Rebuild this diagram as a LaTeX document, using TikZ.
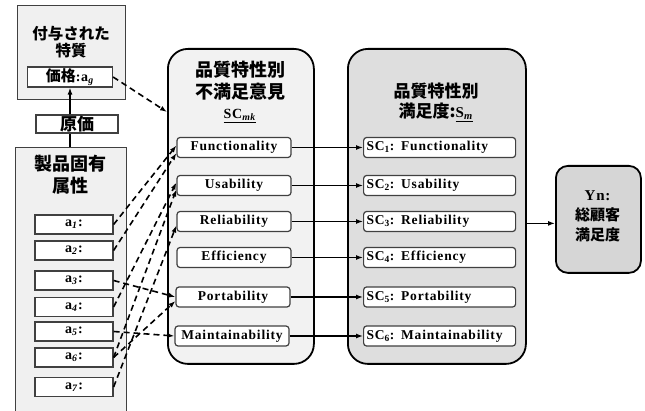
\documentclass[tikz,border=0pt]{standalone}
\usepackage{fontspec}
\setmainfont{Liberation Serif}
\newfontfamily\lat{Liberation Serif}[LetterSpace=6]
\newfontfamily\jp{Noto Sans CJK JP}
\usetikzlibrary{arrows.meta}
\definecolor{boxline}{HTML}{404040}
\definecolor{lightfill}{HTML}{F0F0F0}
\definecolor{midfill}{HTML}{F2F2F2}
\definecolor{rightfill}{HTML}{DEDEDE}
\definecolor{ynfill}{HTML}{D6D6D6}
\tikzset{
  panel/.style={draw=boxline, line width=1.3pt, fill=lightfill},
  bigpanel/.style={draw=black, line width=1.8pt, rounded corners=20pt},
  itembox/.style={draw=boxline, line width=1.2pt, fill=white, rounded corners=3pt,
    minimum height=20pt, inner sep=1pt, font=\lat\bfseries\fontsize{13.5}{14}\selectfont},
  attrbox/.style={draw=boxline, line width=1.2pt, fill=white,
    minimum width=78pt, minimum height=19pt, inner sep=1pt, font=\lat\bfseries\fontsize{14}{14}\selectfont},
  jptitle/.style={font=\jp\bfseries\fontsize{18}{22}\selectfont, align=center, inner sep=0pt},
  solidarrow/.style={line width=1.3pt, -{Latex[length=7pt,width=5pt]}},
  dasharrow/.style={line width=1.6pt, dash pattern=on 6pt off 4pt, -{Latex[length=7pt,width=5pt]}}
}
\begin{document}
\begin{tikzpicture}[x=1pt,y=-1pt]
\useasboundingbox (0,0) rectangle (645,411);
% left panels
\node[panel, minimum width=108pt, minimum height=94pt, anchor=north west, inner sep=0pt] (given) at (17,5) {};
\node[jptitle, font=\jp\bfseries\fontsize{15.5}{17}\selectfont] (giventitle) at (71,42.5) {付与された\\特質};
\node[attrbox, minimum width=85pt, minimum height=20pt] (price) at (70,77) {{\jp\bfseries\fontsize{15}{15}\selectfont 価格}:a\textsubscript{\textit{g}}};
\node[attrbox, minimum width=82pt, minimum height=18pt, font=\jp\bfseries\fontsize{17}{17}\selectfont] (genka) at (77,124) {原価};
\node[panel, minimum width=111pt, minimum height=270pt, anchor=north west, inner sep=0pt] (inherent) at (15,147) {};
\node[jptitle] (inherenttitle) at (70,175) {製品固有\\属性};
\node[attrbox] (a1) at (74,224.5) {a\textsubscript{\textit{1}}:};
\node[attrbox] (a2) at (74,250.5) {a\textsubscript{\textit{2}}:};
\node[attrbox] (a3) at (74,280.5) {a\textsubscript{\textit{3}}:};
\node[attrbox] (a4) at (74,307) {a\textsubscript{\textit{4}}:};
\node[attrbox] (a5) at (74,331.5) {a\textsubscript{\textit{5}}:};
\node[attrbox] (a6) at (74,357.5) {a\textsubscript{\textit{6}}:};
\node[attrbox] (a7) at (74,387) {a\textsubscript{\textit{7}}:};
\draw[line width=1.3pt] (inherent.north -| genka.south) ++(-7,0) coordinate (c1) -- (c1 |- genka.south);
\draw[solidarrow] (c1 |- genka.north) -- (c1 |- price.south);
% middle panel
\node[bigpanel, fill=midfill, minimum width=146pt, minimum height=315pt, anchor=north west, inner sep=0pt] (mid) at (167,48) {};
\node[jptitle] (midtitle) at (240,81) {品質特性別\\不満足意見};
\node[font=\lat\bfseries\fontsize{14}{14}\selectfont, inner sep=0pt] (midsc) at (240,116) {\underline{SC\textsubscript{\textit{mk}}}};
\node[itembox, minimum width=114pt] (f) at (234,147.5) {Functionality};
\node[itembox, minimum width=114pt] (u) at (234,185.5) {Usability};
\node[itembox, minimum width=114pt] (r) at (234,221.5) {Reliability};
\node[itembox, minimum width=114pt] (e) at (234,257.5) {Efficiency};
\node[itembox, minimum width=114pt] (p) at (233,297) {Portability};
\node[itembox, minimum width=114pt] (m) at (232,336) {Maintainability};
% right panel
\node[bigpanel, fill=rightfill, minimum width=178pt, minimum height=315pt, anchor=north west, inner sep=0pt] (right) at (347,48) {};
\node[jptitle, font=\jp\bfseries\fontsize{17}{20}\selectfont] (righttitle) at (436,102) {品質特性別\\満足度:{\lat\fontsize{15}{15}\selectfont\underline{S\textsubscript{\textit{m}}}}};
\node[itembox, minimum width=152pt, anchor=west, text width=146pt, align=left] (s1) at (363,147.5) {SC\textsubscript{1}: Functionality};
\node[itembox, minimum width=152pt, anchor=west, text width=146pt, align=left] (s2) at (363,185.5) {SC\textsubscript{2}: Usability};
\node[itembox, minimum width=152pt, anchor=west, text width=146pt, align=left] (s3) at (363,221.5) {SC\textsubscript{3}: Reliability};
\node[itembox, minimum width=152pt, anchor=west, text width=146pt, align=left] (s4) at (363,257.5) {SC\textsubscript{4}: Efficiency};
\node[itembox, minimum width=152pt, anchor=west, text width=146pt, align=left] (s5) at (363,297) {SC\textsubscript{5}: Portability};
\node[itembox, minimum width=152pt, anchor=west, text width=146pt, align=left] (s6) at (363,336) {SC\textsubscript{6}: Maintainability};
% Yn
\node[draw=black, line width=1.8pt, rounded corners=12pt, fill=ynfill, minimum width=85pt, minimum height=107pt, anchor=north west, inner sep=0pt] (yn) at (555,165) {};
\node[font=\jp\bfseries\fontsize{15}{20}\selectfont, align=center, inner sep=0pt] (yntext) at (597.5,216) {{\lat\fontsize{15}{15}\selectfont Yn:}\\総顧客\\満足度};
% solid arrows
\draw[solidarrow] (f.east) -- (s1.west);
\draw[solidarrow] (u.east) -- (s2.west);
\draw[solidarrow] (r.east) -- (s3.west);
\draw[solidarrow] (e.east) -- (s4.west);
\draw[solidarrow] (p.east) -- (s5.west);
\draw[solidarrow] (m.east) -- (s6.west);
\draw[solidarrow] (right.east |- yn.west) ++(0,4) coordinate (c2) -- (c2 -| yn.west);
% dashed arrows
\coordinate (midin) at (mid.west |- 0,112);
\draw[dasharrow] (price.east) -- (midin);
\draw[dasharrow] (a1.east) -- ([yshift=2pt]f.west);
\draw[dasharrow] (a2.east) -- ([yshift=5pt]f.south west);
\draw[dasharrow] (a4.east) -- ([yshift=3pt]u.west);
\draw[dasharrow] (a6.east) -- ([yshift=-4pt]u.west);
\draw[dasharrow] (a7.east) -- ([yshift=-4pt]r.west);
\draw[dasharrow] (a3.east) -- (p.west);
\draw[dasharrow] (a5.east) -- (m.west);
\draw[dasharrow] (a6.east) -- ([yshift=-4pt]p.west);
\end{tikzpicture}
\end{document}
